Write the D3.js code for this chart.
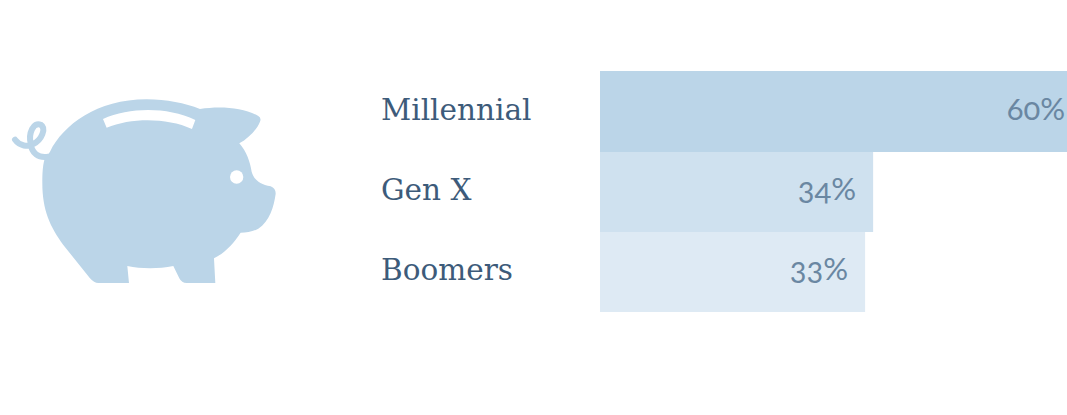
<!DOCTYPE html>
<html>
<head>
<meta charset="utf-8">
<script src="https://cdn.jsdelivr.net/npm/d3@7"></script>
<style>
  html, body { margin: 0; padding: 0; background: #fff; overflow: hidden; }
  svg { display: block; }
</style>
</head>
<body>
<script>
// Chart data.
const categories = ['Millennial', 'Gen X', 'Boomers'];
const values = [60, 34, 33];
const barColors = ['#bbd5e8', '#cfe1ef', '#deeaf4'];

// Svg Constants.
const width = 1067, height = 415;

const svg = d3.select('body')
    .append('svg')
    .attr('width', width)
    .attr('height', height);

// Scales. The first bar runs off the right edge of the page.
const x = d3.scaleLinear().domain([0, 60]).range([600, 1082]);
const y = d3.scaleBand().domain(categories).range([71, 311]);

// Piggy bank icon, drawn in the units of a 3x crop.
const pig = svg.append('g')
    .attr('transform', 'translate(0,90) scale(0.3333)');

pig.append('path')
    .attr('fill', '#bbd5e8')
    .attr('d', 'M150,185 C190,105 290,28 440,28 C500,28 555,40 600,57 C660,48 730,52 775,78 Q785,84 780,95 C770,120 745,145 718,160 C740,185 750,215 755,245 C762,270 780,283 812,289 Q828,295 827,312 C822,350 808,395 775,416 C760,425 740,428 722,428 C700,462 675,488 642,505 L646,579 L560,579 Q545,579 538,565 L520,528 C475,537 425,537 382,528 L387,579 L295,579 Q282,579 270,565 L190,465 C150,410 127,360 127,280 C127,250 128,230 133,210 Z');

// Curly tail.
pig.append('path')
    .attr('fill', 'none')
    .attr('stroke', '#bbd5e8')
    .attr('stroke-width', 18)
    .attr('stroke-linecap', 'round')
    .attr('d', 'M45,149 C58,168 85,172 100,162 C125,150 140,115 122,104 C100,95 85,130 92,160 C95,190 115,205 145,200');

// Coin slot.
pig.append('path')
    .attr('fill', '#fff')
    .attr('d', 'M309,87 C390,52 500,50 586,90 L576,117 C500,83 395,83 320,113 Z');

// Eye.
pig.append('circle')
    .attr('cx', 710)
    .attr('cy', 261)
    .attr('r', 20)
    .attr('fill', '#fff');

// Add the Bars, last one first so each bar sits on top of the pixel it shares with the next.
svg.selectAll('.bar')
    .data(values)
    .join('rect')
        .attr('class', 'bar')
        .attr('x', x(0))
        .attr('y', (_, i) => y(categories[i]))
        .attr('width', d => x(d) - x(0))
        .attr('height', y.bandwidth() + 1)
        .attr('fill', (_, i) => barColors[i])
        .sort((a, b) => a - b);

// Category labels.
svg.selectAll('.cat')
    .data(categories)
    .join('text')
        .attr('class', 'cat')
        .attr('x', 381)
        .attr('y', d => y(d) + 49)
        .attr('font-family', '"DejaVu Serif", serif')
        .attr('font-size', '29.5px')
        .attr('fill', '#3d5b7a')
        .text(d => d);

// Value labels.
svg.selectAll('.val')
    .data(values)
    .join('text')
        .attr('class', 'val')
        .attr('x', d => x(d) - 17)
        .attr('y', (_, i) => y(categories[i]) + 49)
        .attr('text-anchor', 'end')
        .attr('font-family', 'Lato, sans-serif')
        .attr('font-weight', 400)
        .attr('font-size', '31px')
        .attr('fill', '#6a87a2')
        .style('font-feature-settings', '"onum"')
        .text(d => `${d}%`);
</script>
</body>
</html>
